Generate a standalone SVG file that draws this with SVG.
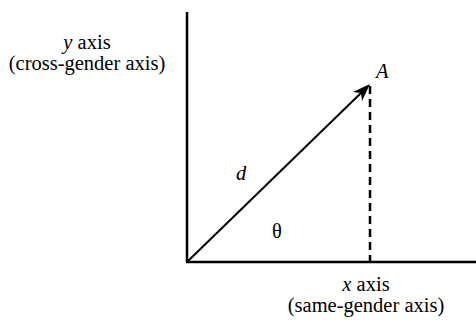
<svg xmlns="http://www.w3.org/2000/svg" width="476" height="320" viewBox="0 0 476 320">
<style>
text, tspan { font-family: 'Liberation Serif', 'Times New Roman', serif !important; font-size: 20.5px; fill: #000; }
.i { font-style: italic; }
</style>
<g id="connectors" stroke="#000" fill="none">
<line x1="187" y1="12" x2="187" y2="262" stroke-width="2.5"/>
<line x1="186" y1="262" x2="476" y2="262" stroke-width="2.5"/>
<line x1="188" y1="261" x2="362" y2="92" stroke-width="2"/>
<path d="M370,84 L362,101 L361,93 L353,92 Z" fill="#000" stroke="none"/>
<line x1="370" y1="86" x2="370" y2="261" stroke-width="2.5" stroke-dasharray="8,5"/>
</g>
<g id="yaxis-label">
<text x="87" y="49" text-anchor="middle" style="font-family:'Liberation Serif',serif !important"><tspan class="i">y</tspan> axis</text>
<text x="87" y="70" text-anchor="middle" style="font-family:'Liberation Serif',serif !important">(cross-gender axis)</text>
</g>
<g id="xaxis-label">
<text x="366" y="291" text-anchor="middle" style="font-family:'Liberation Serif',serif !important"><tspan class="i">x</tspan> axis</text>
<text x="366" y="312" text-anchor="middle" style="font-family:'Liberation Serif',serif !important">(same-gender axis)</text>
</g>
<g id="A"><text class="i" x="376" y="78" style="font-family:'Liberation Serif',serif !important">A</text></g>
<g id="d"><text class="i" x="236" y="180" style="font-family:'Liberation Serif',serif !important">d</text></g>
<g id="theta"><text x="272" y="238" style="font-family:'Liberation Serif',serif !important">θ</text></g>
</svg>
